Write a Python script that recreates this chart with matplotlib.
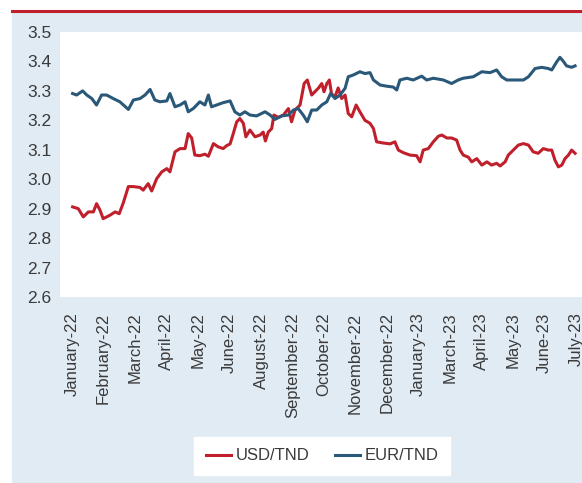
import numpy as np
import matplotlib.pyplot as plt
from matplotlib.patches import Rectangle
from matplotlib.lines import Line2D

plt.rcParams['font.family'] = ['Liberation Sans Narrow', 'Liberation Sans', 'DejaVu Sans']

months = ['January-22', 'February-22', 'March-22', 'April-22', 'May-22', 'June-22',
          'August-22', 'September-22', 'October-22', 'November-22', 'December-22',
          'January-23', 'March-23', 'April-23', 'May-23', 'June-23', 'July-23']

# position in month-tick units
usd_t = [0.02, 0.20, 0.36, 0.52, 0.68, 0.78, 0.89, 0.99, 1.21, 1.37, 1.50, 1.63, 1.79, 1.95,
         2.16, 2.26, 2.42, 2.53, 2.69, 2.85, 3.01, 3.11, 3.27, 3.43, 3.59, 3.69, 3.80, 3.90,
         4.06, 4.22, 4.33, 4.49, 4.64, 4.80, 4.91, 5.02, 5.12, 5.23, 5.33, 5.44, 5.52, 5.65,
         5.81, 5.97, 6.07, 6.14, 6.23, 6.34, 6.41, 6.55, 6.71, 6.87, 6.97, 7.08, 7.24, 7.37,
         7.47, 7.61, 7.71, 7.82, 7.93, 8.00, 8.09, 8.17, 8.24, 8.35, 8.45, 8.56, 8.67, 8.77,
         8.88, 9.02, 9.14, 9.30, 9.46, 9.57, 9.67, 9.88, 10.10, 10.25, 10.36, 10.52, 10.73,
         10.94, 11.05, 11.15, 11.31, 11.47, 11.63, 11.74, 11.90, 12.05, 12.21, 12.32, 12.42,
         12.58, 12.69, 12.85, 13.01, 13.17, 13.32, 13.48, 13.59, 13.75, 13.85, 14.01, 14.17,
         14.33, 14.49, 14.64, 14.80, 14.96, 15.12, 15.23, 15.33, 15.44, 15.55, 15.65, 15.76,
         15.86, 15.97]
usd_tnd = [2.906, 2.900, 2.872, 2.889, 2.889, 2.917, 2.895, 2.866, 2.878, 2.889, 2.883, 2.920,
           2.975, 2.975, 2.972, 2.963, 2.985, 2.960, 3.002, 3.025, 3.036, 3.025, 3.093, 3.104,
           3.104, 3.155, 3.140, 3.082, 3.080, 3.085, 3.078, 3.121, 3.110, 3.104, 3.114, 3.120,
           3.155, 3.195, 3.206, 3.190, 3.144, 3.167, 3.144, 3.150, 3.160, 3.130, 3.160, 3.172,
           3.218, 3.210, 3.218, 3.240, 3.195, 3.235, 3.252, 3.325, 3.337, 3.286, 3.297, 3.309,
           3.325, 3.297, 3.325, 3.337, 3.290, 3.280, 3.310, 3.274, 3.286, 3.223, 3.212, 3.252,
           3.229, 3.200, 3.190, 3.172, 3.127, 3.123, 3.120, 3.127, 3.099, 3.090, 3.082, 3.080,
           3.059, 3.099, 3.104, 3.127, 3.146, 3.150, 3.140, 3.140, 3.133, 3.099, 3.082, 3.075,
           3.059, 3.070, 3.048, 3.059, 3.048, 3.054, 3.045, 3.059, 3.082, 3.099, 3.116, 3.121,
           3.116, 3.093, 3.088, 3.104, 3.099, 3.099, 3.065, 3.042, 3.048, 3.070, 3.082, 3.099,
           3.088]

eur_t = [0.02, 0.15, 0.34, 0.47, 0.63, 0.78, 0.94, 1.10, 1.31, 1.52, 1.79, 1.95, 2.16, 2.32,
         2.48, 2.63, 2.79, 3.01, 3.11, 3.27, 3.43, 3.59, 3.69, 3.85, 4.06, 4.22, 4.33, 4.43,
         4.59, 4.80, 5.02, 5.17, 5.33, 5.49, 5.65, 5.86, 6.13, 6.29, 6.44, 6.66, 6.87, 7.03,
         7.18, 7.34, 7.47, 7.61, 7.77, 7.93, 8.09, 8.21, 8.35, 8.51, 8.67, 8.77, 8.93, 9.14,
         9.30, 9.46, 9.57, 9.78, 9.99, 10.20, 10.31, 10.41, 10.63, 10.83, 11.10, 11.26, 11.47,
         11.79, 12.05, 12.26, 12.42, 12.74, 13.01, 13.27, 13.48, 13.64, 13.80, 14.06, 14.33,
         14.49, 14.70, 14.91, 15.12, 15.23, 15.39, 15.49, 15.60, 15.70, 15.86, 15.97]
eur_tnd = [3.291, 3.286, 3.300, 3.286, 3.274, 3.252, 3.286, 3.286, 3.274, 3.263, 3.237, 3.269,
           3.274, 3.286, 3.305, 3.269, 3.263, 3.266, 3.291, 3.246, 3.252, 3.263, 3.229, 3.240,
           3.263, 3.252, 3.286, 3.246, 3.252, 3.260, 3.266, 3.229, 3.218, 3.229, 3.218, 3.215,
           3.229, 3.218, 3.203, 3.215, 3.218, 3.235, 3.240, 3.218, 3.195, 3.235, 3.235, 3.252,
           3.263, 3.291, 3.274, 3.286, 3.309, 3.348, 3.354, 3.365, 3.359, 3.362, 3.337, 3.320,
           3.316, 3.313, 3.303, 3.337, 3.343, 3.337, 3.350, 3.337, 3.343, 3.337, 3.325, 3.337,
           3.343, 3.348, 3.365, 3.362, 3.371, 3.348, 3.337, 3.337, 3.337, 3.348, 3.376, 3.380,
           3.376, 3.371, 3.399, 3.414, 3.400, 3.385, 3.380, 3.385]

red = '#c0202c'
blue = '#2a5878'
panel = '#e1ebf4'
text_c = '#3a3a3a'

fig = plt.figure(figsize=(5.82, 4.83), dpi=100)
fig.patches.append(Rectangle((12 / 582, 0), 570 / 582, 1 - 13 / 483,
                             transform=fig.transFigure, color=panel, zorder=-5))
fig.add_artist(Line2D([12 / 582, 1], [1 - 11 / 483, 1 - 11 / 483],
                      transform=fig.transFigure, color=red, lw=2.2))

ax = fig.add_axes([60 / 582, 1 - 297 / 483, 522 / 582, 265 / 483])
ax.set_zorder(1)
ax.set_facecolor('white')
ax.plot(usd_t, usd_tnd, color=red, lw=2.2, label='USD/TND')
ax.plot(eur_t, eur_tnd, color=blue, lw=2.2, label='EUR/TND')

ax.set_ylim(2.6, 3.5)
ax.set_yticks(np.arange(2.6, 3.51, 0.1))
ax.set_yticklabels([f'{v:.1f}' for v in np.arange(2.6, 3.51, 0.1)])
ax.set_xlim(-0.38, 16.19)
ax.set_xticks(range(len(months)))
ax.set_xticklabels(months, rotation=90)
ax.tick_params(axis='both', length=0, colors=text_c)
ax.tick_params(axis='y', pad=6, labelsize=12.5)
ax.tick_params(axis='x', pad=11, labelsize=12)
for s in ax.spines.values():
    s.set_visible(False)

leg = fig.legend(loc='center', bbox_to_anchor=(0.554, 0.056), ncol=2, frameon=True,
                 fancybox=False, edgecolor='white', facecolor='white', framealpha=1,
                 fontsize=12, handlelength=1.5, columnspacing=1.5, borderpad=0.7,
                 handletextpad=0.3, borderaxespad=0)
leg.set_zorder(2)
for t in leg.get_texts():
    t.set_color(text_c)

fig.savefig('out.png', dpi=100)
